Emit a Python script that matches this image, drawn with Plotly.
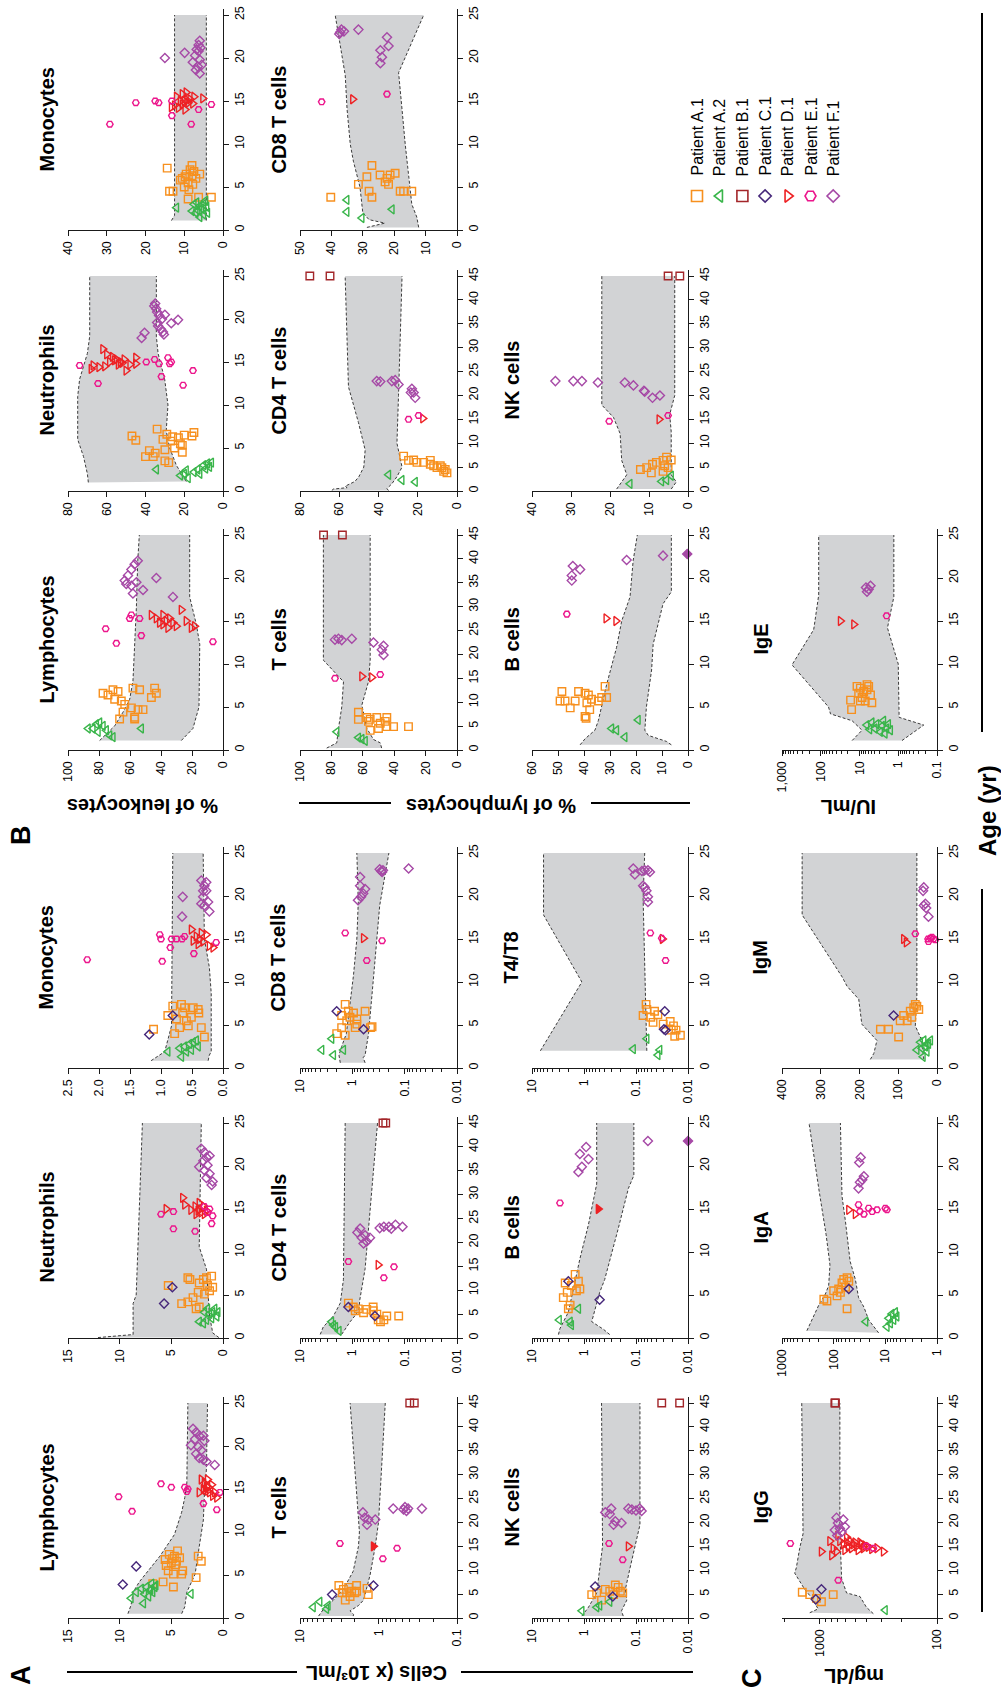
import math
import plotly.graph_objects as go

W, H = 1001, 1690
FONT = "Arial, 'Liberation Sans', Helvetica, sans-serif"

PATIENTS = ["A.1", "A.2", "B.1", "C.1", "D.1", "E.1", "F.1"]
LEGEND_LABELS = ["Patient A.1", "Patient A.2", "Patient B.1", "Patient C.1",
                 "Patient D.1", "Patient E.1", "Patient F.1"]
COLORS = {"A.1": "#F7901E", "A.2": "#39B54A", "B.1": "#A3262A", "C.1": "#46277A",
          "D.1": "#EE2124", "E.1": "#EC168C", "F.1": "#A649A6"}
SYMBOLS = {"A.1": "square-open", "A.2": "triangle-left-open", "B.1": "square-open",
           "C.1": "diamond-open", "D.1": "triangle-right-open", "E.1": "hexagon2-open",
           "F.1": "diamond-open"}
SIZES = {"A.1": 7.5, "A.2": 8, "B.1": 7.5, "C.1": 7, "D.1": 8, "E.1": 6.5, "F.1": 7}

# ---- tick values / labels ----
AGE_25 = [0, 5, 10, 15, 20, 25]
AGE_45 = [0, 5, 10, 15, 20, 25, 30, 35, 40, 45]
TV_15 = [0, 5, 10, 15]
TT_15 = ["0", "5", "10", "15"]
TV_MONO = [0, 0.5, 1.0, 1.5, 2.0, 2.5]
TT_MONO = ["0.0", "0.5", "1.0", "1.5", "2.0", "2.5"]
TV_L2 = [0.01, 0.1, 1, 10]
TT_L2 = ["0.01", "0.1", "1", "10"]
TV_L1 = [0.1, 1, 10]
TT_L1 = ["0.1", "1", "10"]
TV_IGG = [100, 1000]
TT_IGG = ["100", "1000"]
TV_IGA = [1, 10, 100, 1000]
TT_IGA = ["1", "10", "100", "1000"]
TV_IGM = [0, 100, 200, 300, 400]
TT_IGM = ["0", "100", "200", "300", "400"]
TV_IGE = [0.1, 1, 10, 100, 1000]
TT_IGE = ["0.1", "1", "10", "100", "1,000"]
TV_100 = [0, 20, 40, 60, 80, 100]
TV_80 = [0, 20, 40, 60, 80]
TV_60 = [0, 10, 20, 30, 40, 50, 60]
TV_50 = [0, 10, 20, 30, 40, 50]
TV_40 = [0, 10, 20, 30, 40]

# ---- data: (age, value) ----
A_LYMPH_UP = [(0.5, 9.2), (1.5, 8.9), (3, 8.7), (4.2, 8.1), (7.2, 6.1), (9.7, 4.7), (12.3, 4.0), (14, 3.7), (15.7, 3.5), (25, 3.4)]
A_LYMPH_LO = [(0.5, 4.0), (1.3, 3.7), (3, 3.5), (5.1, 2.7), (8.3, 2.3), (11.4, 1.9), (14.4, 1.8), (17.4, 1.6), (25, 1.5)]
A_LYMPH = {
    "A.1": [(4.0, 6.8), (4.2, 5.8), (5.5, 5.3), (5.1, 4.8), (6.6, 4.5), (7.0, 4.2), (6.8, 5.6), (7.4, 5.2), (7.2, 4.7), (6.4, 5.0), (3.6, 4.8), (5.1, 4.0), (5.5, 3.9), (4.7, 2.6), (7.2, 2.4), (6.6, 2.1), (6.1, 5.5), (7.8, 4.4), (6.9, 4.9), (6.2, 4.6)],
    "A.2": [(2.3, 8.9), (3.0, 8.4), (3.4, 7.9), (2.8, 7.6), (3.6, 7.4), (3.2, 7.1), (3.0, 6.8), (3.6, 6.6), (4.0, 6.9), (1.7, 7.7), (3.8, 6.5), (2.8, 3.1), (2.5, 7.2), (3.3, 7.0)],
    "C.1": [(3.9, 9.7), (6.0, 8.4)],
    "D.1": [(16.1, 2.1), (15.7, 1.8), (15.3, 1.6), (14.8, 1.5), (14.6, 1.3), (14.2, 1.0), (14.0, 0.6), (15.0, 1.9), (14.6, 2.3), (15.5, 1.1), (16.1, 1.5), (14.6, 0.8), (15.2, 1.4), (14.9, 1.7)],
    "E.1": [(14.1, 10.1), (12.4, 8.8), (15.6, 6.0), (15.2, 5.0), (15.2, 3.7), (14.7, 3.5), (15.0, 3.4), (13.3, 1.9), (12.6, 0.6), (14.6, 0.3)],
    "F.1": [(22.0, 2.9), (21.6, 2.6), (21.2, 2.3), (20.8, 2.7), (20.1, 3.1), (19.9, 2.4), (19.5, 2.1), (19.1, 2.6), (18.6, 2.3), (18.4, 1.9), (18.2, 1.6), (20.6, 1.8), (17.8, 0.8), (21.2, 1.9)],
}

A_NEUT_UP = [(0.05, 12.1), (0.4, 8.7), (4.0, 8.7), (5.0, 8.4), (25, 7.8)]
A_NEUT_LO = [(0.05, 0.4), (0.6, 1.0), (1.3, 1.1), (2.5, 1.3), (8, 1.6), (10.6, 2.3), (25, 2.1)]
A_NEUT = {
    "A.1": [(6.1, 5.3), (7.0, 3.4), (6.8, 3.2), (4.0, 4.0), (4.2, 3.4), (4.7, 2.9), (5.3, 2.4), (6.4, 2.3), (6.8, 1.9), (7.0, 1.6), (6.1, 1.5), (5.5, 1.3), (5.1, 1.8), (3.6, 2.3), (3.4, 2.6), (7.2, 1.1), (5.9, 1.0)],
    "A.2": [(1.9, 2.3), (1.7, 1.9), (2.1, 1.6), (2.8, 1.3), (3.0, 1.0), (3.4, 0.8), (2.5, 0.6), (3.4, 1.5), (2.3, 1.1), (3.0, 1.8), (3.0, 0.5)],
    "C.1": [(4.0, 5.7), (5.9, 4.9)],
    "D.1": [(15.0, 5.5), (15.5, 3.7), (16.3, 3.9), (15.3, 2.7), (14.8, 2.4), (15.0, 2.3), (14.6, 2.1), (15.3, 1.9), (14.4, 1.8), (14.4, 2.6), (14.8, 1.6), (15.7, 2.3), (14.9, 3.1)],
    "E.1": [(14.4, 6.0), (12.7, 4.8), (14.7, 4.8), (12.4, 2.7), (14.6, 1.5), (13.3, 1.1), (14.2, 1.0), (15.0, 1.3), (15.3, 1.8)],
    "F.1": [(22.0, 2.1), (21.6, 1.8), (21.0, 1.6), (20.6, 1.9), (20.1, 1.5), (19.5, 1.8), (19.1, 1.3), (18.6, 1.6), (18.2, 1.0), (17.8, 1.1), (19.9, 2.3), (21.2, 1.3)],
}

A_MONO_UP = [(0.85, 1.16), (1.9, 0.94), (4.9, 0.83), (25, 0.81)]
A_MONO_LO = [(0.85, 0.24), (1.5, 0.22), (1.9, 0.19), (8.7, 0.19), (11.7, 0.22), (15, 0.30), (25, 0.32)]
A_MONO = {
    "A.1": [(4.5, 1.12), (7.2, 0.81), (7.4, 0.67), (7.0, 0.62), (7.0, 0.48), (6.8, 0.40), (6.1, 0.89), (5.7, 0.75), (5.5, 0.59), (5.9, 0.51), (4.7, 0.70), (4.9, 0.56), (4.0, 0.78), (4.7, 0.35), (3.6, 0.30), (6.4, 0.39), (6.4, 0.65)],
    "A.2": [(1.9, 0.89), (1.3, 0.67), (2.3, 0.70), (2.5, 0.62), (2.8, 0.54), (3.0, 0.48), (3.2, 0.43), (1.9, 0.59), (2.1, 0.51), (2.5, 0.40)],
    "C.1": [(3.9, 1.19), (6.1, 0.81)],
    "D.1": [(16.1, 0.51), (15.3, 0.43), (15.0, 0.38), (14.7, 0.32), (14.4, 0.40), (14.8, 0.48), (15.5, 0.27), (14.2, 0.22), (14.0, 0.16), (15.7, 0.35)],
    "E.1": [(12.6, 2.19), (15.5, 1.02), (15.0, 1.0), (15.0, 0.83), (15.0, 0.75), (15.0, 0.66), (14.0, 0.85), (12.4, 0.98), (13.3, 0.47), (14.6, 0.11), (15.3, 0.62)],
    "F.1": [(19.9, 0.65), (17.6, 0.66), (21.8, 0.35), (21.2, 0.30), (20.6, 0.27), (19.9, 0.32), (19.3, 0.24), (18.9, 0.30), (18.2, 0.22), (19.1, 0.35), (21.6, 0.27), (20.6, 0.32)],
}

A_TCELL_UP = [(0.4, 5.8), (2.3, 4.8), (3.75, 3.75), (6, 2.8), (9.8, 2.1), (15, 1.8), (18, 1.75), (45, 2.3)]
A_TCELL_LO = [(0.4, 2.1), (0.75, 2.08), (1.5, 2.3), (2.6, 1.8), (3.75, 1.55), (9, 1.28), (15, 1.1), (20, 1.0), (45, 0.82)]
A_TCELL = {
    "A.1": [(6.8, 3.2), (6.0, 2.8), (6.4, 2.4), (5.3, 2.55), (5.6, 2.2), (5.3, 2.0), (5.6, 1.9), (3.75, 2.65), (4.5, 2.3), (6.8, 1.9), (6.2, 1.4), (4.9, 1.35), (5.3, 2.9)],
    "A.2": [(2.25, 6.8), (3.4, 5.6), (1.9, 4.6), (2.6, 4.4)],
    "B.1": [(45, 0.40), (45, 0.35)],
    "C.1": [(4.9, 3.9), (6.8, 1.16)],
    "D.1*": [(15.0, 1.16)],
    "E.1": [(15.6, 3.1), (12.4, 0.88), (14.6, 0.58)],
    "F.1": [(22.1, 1.58), (21.0, 1.5), (19.5, 1.4), (20.6, 1.35), (20.6, 1.1), (22.9, 0.65), (22.7, 0.48), (23.2, 0.46), (22.9, 0.42), (22.9, 0.28), (22.4, 0.44)],
}

A_CD4_UP = [(0.75, 4.1), (2.3, 3.6), (4.6, 2.3), (7.3, 1.7), (12.2, 1.48), (45, 1.37)]
A_CD4_LO = [(0.75, 1.6), (3.4, 1.1), (5.7, 0.75), (8, 0.72), (14.5, 0.57), (45, 0.33)]
A_CD4 = {
    "A.1": [(7.3, 1.19), (6.5, 0.96), (5.7, 0.88), (6.1, 0.77), (5.3, 0.61), (6.0, 0.53), (5.7, 0.40), (6.5, 0.40), (5.0, 0.34), (3.8, 0.32), (3.8, 0.25), (4.6, 0.22), (4.6, 0.13), (3.4, 0.29)],
    "A.2": [(3.4, 2.5), (2.3, 2.1), (1.5, 1.8), (2.7, 2.3)],
    "B.1": [(45, 0.26), (45, 0.23)],
    "C.1": [(6.5, 1.19), (4.6, 0.37)],
    "D.1": [(15.3, 0.32)],
    "E.1": [(16.0, 1.19), (12.6, 0.25), (14.9, 0.16)],
    "F.1": [(22.1, 0.8), (22.9, 0.71), (21.0, 0.66), (21.5, 0.57), (20.2, 0.53), (21.0, 0.46), (19.8, 0.61), (23.3, 0.25), (23.3, 0.2), (22.9, 0.18), (23.7, 0.15), (23.3, 0.11), (23.0, 0.3)],
}

A_CD8_UP = [(0.6, 1.7), (1.5, 1.8), (2.5, 1.6), (4, 1.3), (10.8, 0.95), (15, 0.82), (19.3, 0.77), (25, 0.82)]
A_CD8_LO = [(0.6, 0.57), (1.2, 0.62), (1.5, 0.57), (4, 0.49), (10.8, 0.39), (15, 0.34), (18.9, 0.30), (25, 0.20)]
A_CD8 = {
    "A.1": [(7.4, 1.37), (6.6, 1.19), (5.9, 1.11), (6.4, 0.95), (5.7, 0.82), (6.1, 1.6), (4.0, 1.99), (4.7, 1.6), (5.1, 0.82), (5.5, 1.28), (6.6, 0.57), (4.7, 0.45), (4.8, 0.42), (4.7, 0.88), (3.8, 1.37)],
    "A.2": [(2.1, 3.85), (3.4, 2.48), (1.5, 2.3), (2.1, 1.48)],
    "C.1": [(6.6, 1.99), (4.5, 0.61)],
    "D.1": [(15.1, 0.61)],
    "E.1": [(15.7, 1.37), (14.8, 0.27), (12.5, 0.53)],
    "F.1": [(23.2, 0.084), (23.0, 0.26), (22.9, 0.28), (23.1, 0.30), (22.8, 0.27), (22.2, 0.71), (21.2, 0.71), (20.8, 0.57), (20.3, 0.62), (19.5, 0.78), (19.9, 0.68)],
}

A_NK_UP = [(0.4, 1.1), (2.25, 0.82), (5.25, 0.57), (11.25, 0.49), (15, 0.44), (45, 0.46)]
A_NK_LO = [(0.4, 0.176), (1.5, 0.19), (3.75, 0.15), (6, 0.16), (10.5, 0.13), (15, 0.105), (19.5, 0.084), (45, 0.084)]
A_NK = {
    "A.1": [(4.9, 0.71), (5.25, 0.57), (3.75, 0.46), (6.0, 0.39), (5.6, 0.32), (6.9, 0.25), (6.4, 0.22), (5.6, 0.2), (5.25, 0.18), (4.9, 0.27)],
    "A.2": [(1.5, 1.1), (2.25, 0.57), (2.6, 0.5), (3.4, 0.32)],
    "B.1": [(45, 0.032), (45, 0.0145)],
    "C.1": [(6.6, 0.61), (4.5, 0.28)],
    "D.1": [(15.0, 0.14)],
    "E.1": [(15.6, 0.33), (12.2, 0.18)],
    "F.1": [(22.1, 0.39), (22.9, 0.3), (21.75, 0.32), (20.25, 0.25), (19.9, 0.19), (19.5, 0.27), (22.9, 0.14), (22.7, 0.12), (22.5, 0.1), (22.9, 0.085), (22.4, 0.078)],
}

A_BCELL_UP = [(0.4, 3.1), (1.1, 2.9), (3, 2.0), (6.8, 1.48), (9.3, 1.19), (13.2, 0.82), (17.9, 0.57), (25, 0.57)]
A_BCELL_LO = [(0.4, 0.32), (1.0, 0.42), (1.9, 0.71), (3.4, 0.6), (5.3, 0.5), (6.8, 0.4), (9.5, 0.3), (12.7, 0.22), (17.4, 0.14), (18.9, 0.11), (25, 0.11)]
A_BCELL = {
    "A.1": [(6.4, 2.3), (6.1, 1.75), (7.4, 1.48), (6.6, 1.28), (5.7, 1.2), (5.3, 2.1), (4.7, 2.5), (3.8, 1.85), (3.4, 2.0), (5.5, 1.4)],
    "A.2": [(2.1, 3.0), (1.9, 1.85), (1.5, 1.75), (3.4, 1.28)],
    "C.1": [(6.6, 2.0), (4.45, 0.5)],
    "D.1*": [(15.0, 0.53)],
    "E.1": [(15.7, 2.9)],
    "F.1": [(22.2, 0.91), (21.4, 1.2), (20.8, 0.82), (19.9, 1.1), (19.3, 1.28), (22.9, 0.059)],
    "F.1*": [(22.9, 0.01)],
}

A_T4T8_UP = [(2, 6.9), (10, 1.1), (17.8, 6.0), (25, 6.0)]
A_T4T8_LO = [(2, 0.062), (12.9, 0.068), (19.7, 0.073), (25, 0.068)]
A_T4T8 = {
    "A.1": [(7.4, 0.064), (6.8, 0.062), (6.1, 0.073), (5.9, 0.052), (6.6, 0.044), (6.2, 0.038), (5.3, 0.047), (5.1, 0.030), (5.4, 0.022), (4.9, 0.019), (4.4, 0.017), (3.8, 0.014), (3.7, 0.018), (4.4, 0.021)],
    "A.2": [(2.2, 0.113), (3.4, 0.062), (2.1, 0.035), (1.5, 0.038)],
    "C.1": [(6.6, 0.028), (4.5, 0.029), (4.4, 0.027)],
    "D.1": [(15.0, 0.031)],
    "E.1": [(15.7, 0.053), (15.1, 0.032), (12.5, 0.027)],
    "F.1": [(23.2, 0.113), (22.5, 0.105), (22.9, 0.077), (23.0, 0.068), (23.0, 0.059), (22.8, 0.054), (21.2, 0.073), (20.6, 0.063), (19.9, 0.059), (19.3, 0.059), (21.0, 0.068)],
}

IGG_UP = [(1.1, 1218), (1.9, 1033), (4.1, 1162), (6, 1345), (9.4, 1637), (10.5, 1585), (14.6, 1484), (17.6, 1389), (45, 1425)]
IGG_LO = [(0.9, 349), (2.25, 400), (4.5, 454), (5.25, 591), (8.25, 651), (18, 674), (45, 674)]
IGG = {
    "A.1": [(5.4, 1410), (4.9, 1218), (4.1, 1068), (3.4, 968), (4.9, 768)],
    "A.2": [(1.65, 277)],
    "B.1": [(45, 744), (45, 735)],
    "C.1": [(3.9, 1082), (6.0, 968)],
    "D.1": [(13.9, 968), (16.1, 820), (14.6, 768), (13.9, 720), (16.1, 674), (15.4, 630), (14.2, 610), (15.8, 590), (15.0, 570), (16.1, 552), (14.6, 535), (15.4, 518), (15.8, 500), (15.0, 485), (14.2, 470), (15.8, 454), (15.4, 440), (14.6, 425), (15.2, 412), (14.9, 385), (14.4, 360), (14.6, 325), (13.9, 286), (17.25, 700), (16.9, 590), (13.1, 790)],
    "E.1": [(15.6, 1783), (7.9, 696), (15.0, 400), (14.6, 349)],
    "F.1": [(21.0, 720), (19.9, 700), (18.75, 674), (20.6, 630), (18.0, 650), (19.1, 610), (17.25, 710), (18.4, 744)],
}

IGA_UP = [(0.85, 330), (2.1, 263), (3.8, 195), (5.1, 145), (6.1, 125), (8.5, 118), (12, 140), (17, 190), (25, 300)]
IGA_LO = [(0.6, 13.5), (2.1, 21), (3.6, 26), (4.7, 33), (6.8, 38), (8.9, 48), (13.5, 59), (16.5, 69), (25, 74)]
IGA = {
    "A.1": [(4.5, 155), (4.3, 135), (5.5, 100), (4.9, 86), (5.7, 80), (6.4, 69), (6.8, 64), (7.0, 55), (5.9, 59), (6.6, 51), (5.3, 74), (3.4, 55)],
    "A.2": [(1.9, 24), (1.3, 9.3), (2.3, 8.6), (2.8, 7.5), (3.0, 6.4), (2.1, 6.9), (1.7, 8.0), (2.5, 6.0)],
    "C.1": [(5.7, 51)],
    "D.1": [(14.9, 51), (14.4, 38)],
    "E.1": [(15.5, 33), (14.7, 31), (15.1, 21), (14.7, 18), (14.9, 14.5), (15.1, 10), (14.9, 9.3), (14.4, 26)],
    "F.1": [(17.4, 33), (18.4, 28), (18.8, 26), (18.1, 31), (20.4, 32), (21.0, 30)],
}

IGM_UP = [(1, 172), (1.7, 163), (3.2, 155), (5.1, 194), (8, 202), (9.5, 232), (10.6, 245), (17.8, 348), (25, 348)]
IGM_LO = [(1, 34), (3.2, 39), (4.9, 56), (8.3, 52), (25, 52)]
IGM = {
    "A.1": [(4.5, 146), (4.5, 125), (3.6, 99), (5.5, 95), (6.1, 86), (6.6, 69), (7.0, 60), (7.2, 52), (5.5, 77), (5.9, 65), (6.8, 47), (7.4, 56)],
    "A.2": [(2.1, 52), (3.0, 43), (3.2, 34), (2.8, 26), (2.5, 30), (2.3, 39), (2.8, 22), (3.2, 17), (1.3, 36), (1.9, 26)],
    "C.1": [(6.1, 112)],
    "D.1": [(15.0, 86), (14.6, 79)],
    "E.1": [(15.6, 56), (15.0, 23), (15.1, 17), (15.0, 9), (14.7, 22), (15.2, 13), (14.9, 4)],
    "F.1": [(21.0, 34), (20.6, 36), (19.1, 30), (18.6, 28), (18.9, 34), (17.6, 22)],
}

IGE_UP = [(1.1, 15.5), (2.3, 8.6), (3.4, 15.5), (4.2, 56), (5, 63), (5.9, 93), (9.9, 552), (14, 152), (18, 113), (25, 113)]
IGE_LO = [(1.1, 0.8), (2.9, 0.22), (3.8, 0.95), (10, 1.0), (14.2, 1.9), (17.8, 1.3), (25, 1.3)]
IGE = {
    "A.1": [(5.8, 17), (4.7, 16), (7.4, 11.6), (7.2, 9.5), (6.8, 7.8), (7.0, 6.4), (7.4, 5.8), (6.4, 5.2), (6.1, 8.6), (5.7, 7.1), (6.6, 10.5), (5.5, 4.8), (7.6, 6.4), (5.7, 9.5)],
    "A.2": [(3.2, 4.8), (3.0, 3.6), (2.8, 2.6), (2.5, 2.0), (2.3, 1.6), (2.1, 2.9), (1.9, 2.2), (2.5, 4.0), (3.0, 1.8), (3.4, 2.4), (2.9, 6.5), (2.4, 5.5)],
    "D.1": [(15.0, 31), (14.6, 14)],
    "E.1": [(15.6, 2.0)],
    "F.1": [(18.4, 6.4), (18.7, 5.8), (19.1, 5.2), (18.9, 6.8)],
}

B_LYMPH_UP = [(1.1, 79.6), (2.8, 69.9), (4.4, 64.5), (5.9, 60.2), (8, 58.1), (12.3, 57), (16.5, 55.9), (22, 55), (25, 54)]
B_LYMPH_LO = [(1.1, 26.9), (2.5, 19.4), (5, 15.5), (9.3, 15), (12.3, 15), (14.6, 17.2), (17.8, 21.5), (25, 21.5)]
B_LYMPH = {
    "A.1": [(6.6, 77.4), (6.4, 74.2), (7.0, 71), (6.8, 67.7), (5.9, 69.9), (5.7, 65.6), (5.3, 63.4), (3.6, 66.7), (4.4, 64.5), (4.9, 59.1), (3.8, 57), (4.7, 54.8), (4.7, 51.6), (7.2, 58.1), (7.0, 53.8), (6.1, 46.2), (7.2, 44.1), (6.6, 43), (3.6, 57)],
    "A.2": [(2.5, 83.9), (3.0, 81.7), (3.2, 79.6), (2.8, 77.4), (2.1, 80.6), (2.3, 75.3), (1.7, 73.1), (1.5, 71.0), (2.5, 87), (2.5, 52.7)],
    "D.1": [(15.7, 46.2), (15.3, 43), (14.8, 40.9), (14.6, 38.7), (15.0, 36.6), (15.3, 34.4), (14.8, 32.3), (14.4, 30.1), (16.3, 26.9), (15.0, 23.7), (14.2, 20.4), (14.4, 18.3), (15.7, 38.7), (14.2, 35.5)],
    "E.1": [(14.1, 75.7), (12.4, 68.8), (15.3, 60.2), (15.3, 53.8), (13.3, 52.7), (15.7, 59.1), (12.6, 6.5)],
    "F.1": [(21.6, 57), (21, 59.1), (20.3, 61.3), (19.7, 63.4), (19.3, 62.4), (19.1, 59.1), (19.5, 55.9), (18.2, 58.1), (18.6, 51.6), (20.0, 43), (17.8, 32.3), (22.0, 55)],
}

B_NEUT_UP = [(1, 69.5), (2, 70), (4, 72), (6, 75), (11, 75), (13, 74), (16, 70), (18, 68.8), (25, 68.8)]
B_NEUT_LO = [(1.1, 18.9), (3, 24.1), (5, 27.5), (7, 29.3), (10, 28.4), (13, 30.1), (16, 33.5), (18, 34.4), (25, 34.4)]
B_NEUT = {
    "A.1": [(7.2, 34), (6.6, 29), (6.3, 26), (6.2, 23), (6.5, 20), (6.4, 16), (6.8, 15), (5.5, 22), (5.0, 25), (4.8, 30), (4.4, 35), (4.7, 38), (4.0, 40), (4.0, 36), (3.5, 30), (3.3, 28), (5.8, 27), (6.0, 31), (5.3, 21), (4.5, 21), (6.4, 47), (5.9, 45)],
    "A.2": [(2.5, 34.4), (1.5, 18), (2.0, 20), (2.4, 19), (2.2, 15), (2.5, 13), (3.0, 10), (3.2, 8), (2.8, 7), (3.3, 6), (2.6, 9), (2.0, 12), (1.8, 22)],
    "D.1": [(14.2, 68), (14.6, 67), (14.4, 64), (15.9, 60), (15.0, 58.5), (15.3, 55), (14.7, 54), (15.0, 53), (15.3, 51), (14.0, 50), (14.7, 48), (15.5, 45), (14.8, 45), (15.2, 56), (14.9, 52), (15.6, 57), (16.5, 62), (14.5, 61)],
    "E.1": [(14.6, 74), (12.5, 64.5), (15.0, 39.6), (15.3, 35.3), (14.8, 33), (13.3, 31.8), (15.5, 28.4), (14.8, 27.5), (15.0, 26.7), (12.3, 20.6), (14.0, 15.5)],
    "F.1": [(17.8, 42), (18.4, 40.5), (21.8, 35), (21.5, 35.5), (21.2, 34.5), (20.8, 34), (20.4, 33), (20.0, 31.5), (19.6, 34), (19.2, 33.5), (18.8, 32), (18.5, 31), (19.5, 26.7), (19.9, 23.2), (20.5, 30), (18.2, 30.5)],
}

B_MONO_UP = [(1.1, 13.3), (1.7, 12.5), (25, 12.5)]
B_MONO_LO = [(1.1, 4.3), (25, 4.3)]
B_MONO = {
    "A.1": [(7.2, 14.4), (4.5, 13.8), (4.5, 12.9), (6.0, 10.5), (6.5, 9.5), (7.0, 8.5), (6.8, 7.5), (6.3, 8.0), (5.5, 9.0), (5.0, 10.0), (4.7, 8.8), (6.0, 7.0), (6.5, 6.0), (5.8, 11.0), (3.8, 6.3), (3.6, 9.0), (3.8, 3.0), (7.5, 8.0), (6.2, 9.8), (5.3, 7.8)],
    "A.2": [(2.6, 12.0), (2.0, 7.0), (2.3, 6.5), (3.0, 5.0), (3.4, 4.5), (2.8, 6.0), (2.5, 5.5), (2.0, 4.0), (1.5, 6.0), (3.2, 6.8), (2.7, 4.2), (2.2, 8.0), (3.0, 7.5), (1.8, 5.0)],
    "D.1": [(15.8, 10.5), (16.0, 9.5), (15.5, 7.5), (15.0, 11.0), (15.0, 10.0), (14.8, 9.0), (14.5, 12.5), (14.3, 13.3), (14.2, 11.5), (14.0, 9.8), (15.2, 8.5), (14.7, 7.8), (15.3, 5.2), (15.5, 12.0), (14.6, 10.5), (15.1, 9.3)],
    "E.1": [(12.3, 29.2), (14.8, 22.5), (15.0, 17.5), (14.8, 16.6), (15.0, 13.2), (13.3, 13.2), (12.3, 8.2), (14.0, 6.3), (14.6, 3.0)],
    "F.1": [(20.0, 15.0), (20.6, 9.9), (22.0, 6.0), (21.5, 6.3), (21.0, 6.8), (20.3, 7.2), (19.5, 7.8), (19.2, 5.5), (19.0, 6.5), (18.6, 7.0), (18.2, 6.0), (19.8, 6.0), (21.2, 5.8), (20.8, 6.3)],
}

B_TCELL_UP = [(0.4, 83), (1.5, 76.6), (4.5, 75.5), (9, 73.4), (14.3, 72.3), (18.8, 85.1), (45, 85.1)]
B_TCELL_LO = [(0.4, 48), (1.5, 48.9), (2.2, 53.2), (4.5, 57.4), (9.4, 60.6), (14.3, 56.4), (18.8, 55.3), (45, 55.3)]
B_TCELL = {
    "A.1": [(7.9, 62.8), (6.4, 62.8), (6.8, 57.4), (6.0, 56.4), (6.4, 55.3), (6.8, 51.1), (5.6, 48.9), (6.8, 44.7), (4.9, 44.7), (4.5, 50), (4.1, 55.3), (4.9, 40.4), (4.9, 30.9), (6.0, 45.7)],
    "A.2": [(3.8, 76.6), (2.6, 62.8), (2.3, 60.6), (1.9, 58.5)],
    "B.1": [(45, 85), (45, 73)],
    "D.1": [(15.4, 60.6), (15.2, 54.3)],
    "E.1": [(15.0, 77.7), (15.8, 48.9)],
    "F.1": [(23.1, 77.7), (23.3, 75.5), (23.0, 73.4), (23.3, 67), (22.5, 53.2), (21.0, 47.9), (21.8, 46.8), (19.9, 46.8)],
}

B_CD4_UP = [(0.1, 63.8), (0.4, 63), (0.7, 56), (1, 57), (2, 52), (3, 50), (5, 47.5), (8.6, 46.8), (14.3, 50.2), (21.8, 55.3), (45, 57)]
B_CD4_LO = [(0.1, 34.9), (0.5, 35.7), (1.5, 33.2), (3, 30.6), (5, 28), (10, 30.6), (20, 29.8), (45, 28)]
B_CD4 = {
    "A.1": [(7.3, 27.2), (6.4, 24.7), (6.5, 22.1), (6.0, 20.4), (6.0, 17.0), (5.6, 13.6), (5.3, 11.9), (4.9, 10.2), (4.9, 7.7), (4.5, 6.0), (3.8, 5.1), (4.1, 6.8), (5.3, 8.5), (6.4, 13.6)],
    "A.2": [(3.4, 34.9), (2.3, 28.1), (1.9, 21.3)],
    "B.1": [(45, 75), (45, 64.7)],
    "D.1": [(15.2, 17.4)],
    "E.1": [(15.0, 24.7), (15.8, 19.6)],
    "F.1": [(23.0, 40.9), (22.9, 39.1), (23.0, 33.2), (23.2, 31.5), (22.3, 29.8), (21.4, 23), (20.6, 22.1), (19.5, 21.3), (20.6, 23.5)],
}

B_CD8_UP = [(0.3, 28.7), (0.8, 23), (1.2, 28), (2, 30), (5, 30.9), (8, 33), (10, 34), (14, 35), (18, 35.6), (25, 38.8)]
B_CD8_LO = [(0.3, 12.2), (1.5, 12.8), (3, 14.4), (6, 15.4), (10, 16.5), (14, 17.5), (18.3, 18.6), (25, 10.6)]
B_CD8 = {
    "A.1": [(3.8, 40.2), (7.5, 27.1), (6.2, 28.7), (5.3, 31.4), (4.5, 28.0), (3.8, 27.1), (6.4, 24.5), (6.0, 22.3), (6.4, 21.3), (5.6, 22.9), (5.3, 21.8), (6.6, 19.7), (4.5, 18.1), (4.5, 17.0), (4.5, 14.4)],
    "A.2": [(3.5, 35.1), (2.1, 35.1), (1.4, 30.3), (2.4, 20.7)],
    "D.1": [(15.2, 33.2)],
    "E.1": [(14.9, 43.1), (15.8, 22.3)],
    "F.1": [(23.0, 37.2), (23.3, 36.8), (22.8, 37.5), (23.1, 36.0), (23.3, 31.4), (22.4, 22.3), (20.9, 24.4), (20.1, 23.9), (19.4, 24.4), (21.4, 21.8)],
}

B_BCELL_UP = [(0.6, 41.5), (1.3, 39.6), (2.3, 35.8), (3.4, 34.5), (7.6, 31.3), (11.9, 27.5), (15, 25.5), (17.8, 22.3), (22, 21.1), (25, 19.5)]
B_BCELL_LO = [(0.6, 6.4), (1.0, 8.3), (1.7, 15.3), (2.3, 16.6), (5, 16), (9.3, 14), (12.3, 13.4), (17, 9.6), (18.4, 6.4), (25, 6.4)]
B_BCELL = {
    "A.1": [(6.8, 48.5), (5.7, 49.2), (5.7, 47.3), (4.9, 45.3), (5.7, 43.4), (6.8, 42.1), (6.6, 39.6), (6.4, 38.3), (5.5, 38.9), (4.7, 37.8), (3.9, 39.6), (3.7, 39.2), (5.7, 34.5), (6.1, 33.2), (7.4, 31.9), (6.1, 31.3), (5.9, 37.1)],
    "A.2": [(3.5, 19.2), (2.5, 29.4), (2.3, 27.5), (1.5, 24.3)],
    "D.1": [(15.3, 31.5), (15.0, 27.7)],
    "E.1": [(15.8, 46.6)],
    "F.1": [(21.4, 44.3), (21.0, 41.5), (20.3, 44.7), (19.7, 44.7), (22.1, 23.6), (22.6, 9.6)],
    "F.1*": [(22.8, 0.3)],
}

B_NK_UP = [(0.4, 18.3), (1.5, 17.4), (3.4, 15.7), (6.4, 17), (12, 17.4), (15.4, 19.1), (18, 22.1), (45, 22.1)]
B_NK_LO = [(0.4, 4.3), (1.5, 3.4), (1.9, 3.0), (3.4, 4.3), (12.4, 4.3), (16, 4.7), (20, 3.4), (45, 3.4)]
B_NK = {
    "A.1": [(4.5, 12.2), (4.9, 10.6), (5.6, 9.1), (6.0, 8.1), (3.8, 9.4), (6.4, 6.4), (7.1, 5.5), (6.5, 4.3), (5.3, 6.0), (4.1, 6.4), (4.9, 5.1)],
    "A.2": [(1.5, 14.9), (2.0, 6.8), (2.3, 5.5), (3.2, 4.3)],
    "B.1": [(45, 5.1), (45, 2.1)],
    "D.1": [(15.0, 7.4)],
    "E.1": [(14.6, 20.2), (15.8, 5.1)],
    "F.1": [(23.0, 34.0), (23.0, 29.4), (23.0, 27.2), (22.7, 23.1), (22.7, 16.2), (22.1, 14.0), (21.0, 11.3), (20.8, 11.1), (19.5, 9.1), (20.0, 7.2)],
}

# ---- layout (pixels) ----
COL_X = [(68, 223), (300, 457), (532, 688), (782, 937)]
TITLE_X = [46, 278, 511, 760]
SLOT_Y0 = {1: 1618, 2: 1338, 3: 1068, 4: 750, 5: 491, 6: 230}
SPAN = 215
EXTRA = 6

PANELS = [
    ("Lymphocytes", 0, 1, A_LYMPH, A_LYMPH_UP, A_LYMPH_LO, False, (0, 15), TV_15, TT_15, 25),
    ("Neutrophils", 0, 2, A_NEUT, A_NEUT_UP, A_NEUT_LO, False, (0, 15), TV_15, TT_15, 25),
    ("Monocytes", 0, 3, A_MONO, A_MONO_UP, A_MONO_LO, False, (0, 2.5), TV_MONO, TT_MONO, 25),
    ("T cells", 1, 1, A_TCELL, A_TCELL_UP, A_TCELL_LO, True, (0.1, 10), TV_L1, TT_L1, 45),
    ("CD4 T cells", 1, 2, A_CD4, A_CD4_UP, A_CD4_LO, True, (0.01, 10), TV_L2, TT_L2, 45),
    ("CD8 T cells", 1, 3, A_CD8, A_CD8_UP, A_CD8_LO, True, (0.01, 10), TV_L2, TT_L2, 25),
    ("NK cells", 2, 1, A_NK, A_NK_UP, A_NK_LO, True, (0.01, 10), TV_L2, TT_L2, 45),
    ("B cells", 2, 2, A_BCELL, A_BCELL_UP, A_BCELL_LO, True, (0.01, 10), TV_L2, TT_L2, 25),
    ("T4/T8", 2, 3, A_T4T8, A_T4T8_UP, A_T4T8_LO, True, (0.01, 10), TV_L2, TT_L2, 25),
    ("IgG", 3, 1, IGG, IGG_UP, IGG_LO, True, (100, 2100), TV_IGG, TT_IGG, 45),
    ("IgA", 3, 2, IGA, IGA_UP, IGA_LO, True, (1, 1000), TV_IGA, TT_IGA, 25),
    ("IgM", 3, 3, IGM, IGM_UP, IGM_LO, False, (0, 400), TV_IGM, TT_IGM, 25),
    ("IgE", 3, 4, IGE, IGE_UP, IGE_LO, True, (0.1, 1000), TV_IGE, TT_IGE, 25),
    ("Lymphocytes", 0, 4, B_LYMPH, B_LYMPH_UP, B_LYMPH_LO, False, (0, 100), TV_100, [str(v) for v in TV_100], 25),
    ("Neutrophils", 0, 5, B_NEUT, B_NEUT_UP, B_NEUT_LO, False, (0, 80), TV_80, [str(v) for v in TV_80], 25),
    ("Monocytes", 0, 6, B_MONO, B_MONO_UP, B_MONO_LO, False, (0, 40), TV_40, [str(v) for v in TV_40], 25),
    ("T cells", 1, 4, B_TCELL, B_TCELL_UP, B_TCELL_LO, False, (0, 100), TV_100, [str(v) for v in TV_100], 45),
    ("CD4 T cells", 1, 5, B_CD4, B_CD4_UP, B_CD4_LO, False, (0, 80), TV_80, [str(v) for v in TV_80], 45),
    ("CD8 T cells", 1, 6, B_CD8, B_CD8_UP, B_CD8_LO, False, (0, 50), TV_50, [str(v) for v in TV_50], 25),
    ("B cells", 2, 4, B_BCELL, B_BCELL_UP, B_BCELL_LO, False, (0, 60), TV_60, [str(v) for v in TV_60], 25),
    ("NK cells", 2, 5, B_NK, B_NK_UP, B_NK_LO, False, (0, 40), TV_40, [str(v) for v in TV_40], 45),
]

AXIS_COLOR = "#1a1a1a"
BAND_FILL = "#D2D3D5"
BAND_LINE = "#3c3c3c"

fig = go.Figure()
layout = dict(width=W, height=H, margin=dict(l=0, r=0, t=0, b=0),
              paper_bgcolor="white", plot_bgcolor="rgba(0,0,0,0)",
              showlegend=False, font=dict(family=FONT, color="black"))
annotations = []
shapes = []


def minor_vals(vmin, vmax):
    out = []
    for d in range(int(math.floor(math.log10(vmin))), int(math.ceil(math.log10(vmax))) + 1):
        for k in range(2, 10):
            v = k * 10 ** d
            if vmin < v < vmax:
                out.append(v)
    return out


for i, (title, col, slot, data, up, lo, is_log, vr, tv, tt, agemax) in enumerate(PANELS):
    n = i + 1
    xname = "x" if n == 1 else "x%d" % n
    yname = "y" if n == 1 else "y%d" % n
    xk = "xaxis" if n == 1 else "xaxis%d" % n
    yk = "yaxis" if n == 1 else "yaxis%d" % n
    x0, x1 = COL_X[col]
    y0 = SLOT_Y0[slot]
    ytop = y0 - SPAN - EXTRA
    vmin, vmax = vr
    if is_log:
        xrange = [math.log10(vmax), math.log10(vmin)]
    else:
        xrange = [vmax, vmin]
    xa = dict(domain=[x0 / W, x1 / W], anchor=yname, range=xrange,
              type="log" if is_log else "linear", side="bottom",
              showline=True, linecolor=AXIS_COLOR, linewidth=1.4,
              ticks="outside", ticklen=5, tickwidth=1.2, tickcolor=AXIS_COLOR,
              tickmode="array", tickvals=tv, ticktext=tt, tickangle=-90,
              tickfont=dict(size=12.5, family=FONT, color="black"),
              showgrid=False, zeroline=False, automargin=False, fixedrange=True)
    if is_log:
        xa["minor"] = dict(tickmode="array", tickvals=minor_vals(vmin, vmax),
                           ticks="outside", ticklen=2.5, tickwidth=0.9,
                           tickcolor=AXIS_COLOR, showgrid=False)
    ages = AGE_45 if agemax == 45 else AGE_25
    ya = dict(domain=[1 - y0 / H, 1 - ytop / H], anchor=xname,
              range=[0, agemax * (SPAN + EXTRA) / SPAN], side="right",
              showline=True, linecolor=AXIS_COLOR, linewidth=1.4,
              ticks="outside", ticklen=5, tickwidth=1.2, tickcolor=AXIS_COLOR,
              tickmode="array", tickvals=ages, ticktext=[str(a) for a in ages],
              tickangle=-90, tickfont=dict(size=12.5, family=FONT, color="black"),
              showgrid=False, zeroline=False, automargin=False, fixedrange=True)
    layout[xk] = xa
    layout[yk] = ya

    # reference band
    bx = [v for a, v in up] + [v for a, v in reversed(lo)]
    by = [a for a, v in up] + [a for a, v in reversed(lo)]
    fig.add_trace(go.Scatter(x=bx, y=by, xaxis=xname, yaxis=yname, mode="lines",
                             fill="toself", fillcolor=BAND_FILL, line=dict(width=0),
                             hoverinfo="skip"))
    for curve in (up, lo):
        fig.add_trace(go.Scatter(x=[v for a, v in curve], y=[a for a, v in curve],
                                 xaxis=xname, yaxis=yname, mode="lines",
                                 line=dict(color=BAND_LINE, width=1, dash="3px,2px"),
                                 hoverinfo="skip"))
    # patient points
    for key, pts in data.items():
        pid = key.rstrip("*")
        filled = key.endswith("*")
        sym = SYMBOLS[pid]
        if filled:
            sym = sym.replace("-open", "")
        fig.add_trace(go.Scatter(
            x=[v for a, v in pts], y=[a for a, v in pts], xaxis=xname, yaxis=yname,
            mode="markers", cliponaxis=False,
            marker=dict(symbol=sym, size=SIZES[pid], color=COLORS[pid],
                        line=dict(width=1.4, color=COLORS[pid]))))
    # title
    annotations.append(dict(text="<b>%s</b>" % title, x=TITLE_X[col] / W,
                            y=1 - (y0 - SPAN / 2 - EXTRA / 2) / H,
                            xref="paper", yref="paper", showarrow=False,
                            textangle=-90, xanchor="center", yanchor="middle",
                            font=dict(size=20, family=FONT, color="black")))

# legend on a hidden pixel-space axis
LEG_X0, LEG_DX, LEG_MY, LEG_TY = 697, 22.7, 196, 178
nL = len(PANELS) + 1
layout["xaxis%d" % nL] = dict(domain=[0, 1], range=[0, W], visible=False,
                              anchor="y%d" % nL, fixedrange=True)
layout["yaxis%d" % nL] = dict(domain=[0, 1], range=[H, 0], visible=False,
                              anchor="x%d" % nL, fixedrange=True)
for k, pid in enumerate(PATIENTS):
    lx = LEG_X0 + k * LEG_DX
    fig.add_trace(go.Scatter(x=[lx], y=[LEG_MY], xaxis="x%d" % nL, yaxis="y%d" % nL,
                             mode="markers", cliponaxis=False,
                             marker=dict(symbol=SYMBOLS[pid], size=11 if "diamond" not in SYMBOLS[pid] else 9.5,
                                         color=COLORS[pid],
                                         line=dict(width=1.6, color=COLORS[pid]))))
    annotations.append(dict(text=LEGEND_LABELS[k], x=lx / W, y=1 - LEG_TY / H,
                            xref="paper", yref="paper", showarrow=False,
                            textangle=-90, xanchor="center", yanchor="bottom",
                            font=dict(size=16, family=FONT, color="black")))


def ann(text, px, py, size, angle, bold=True):
    annotations.append(dict(text=("<b>%s</b>" % text) if bold else text,
                            x=px / W, y=1 - py / H, xref="paper", yref="paper",
                            showarrow=False, textangle=angle, xanchor="center",
                            yanchor="middle", font=dict(size=size, family=FONT, color="black")))


def hline(xa, xb, py, w=2):
    shapes.append(dict(type="line", xref="paper", yref="paper", x0=xa / W, x1=xb / W,
                       y0=1 - py / H, y1=1 - py / H, line=dict(color="black", width=w)))


def vline(px, ya, yb, w=2):
    shapes.append(dict(type="line", xref="paper", yref="paper", x0=px / W, x1=px / W,
                       y0=1 - ya / H, y1=1 - yb / H, line=dict(color="black", width=w)))


ann("A", 21, 1675, 27, -90)
ann("B", 21, 835, 27, -90)
ann("C", 752, 1678, 27, -90)
ann("Cells (x 10\u00b3/mL", 377, 1673, 20, 180)
hline(67, 297, 1672)
hline(461, 693, 1672)
ann("% of leukocytes", 143, 806, 20, 180)
ann("% of lymphocytes", 491, 806, 20, 180)
hline(299, 391, 803)
hline(591, 690, 803)
ann("mg/dL", 854, 1676, 20, 180)
ann("IU/mL", 848, 807, 20, 180)
ann("Age (yr)", 987, 811, 24, -90)
vline(982, 13, 732)
vline(982, 889, 1612)

layout["annotations"] = annotations
layout["shapes"] = shapes
fig.update_layout(**layout)

fig.write_html("out.html", config={"displayModeBar": False},
               post_script="document.body.style.margin='0px';")
